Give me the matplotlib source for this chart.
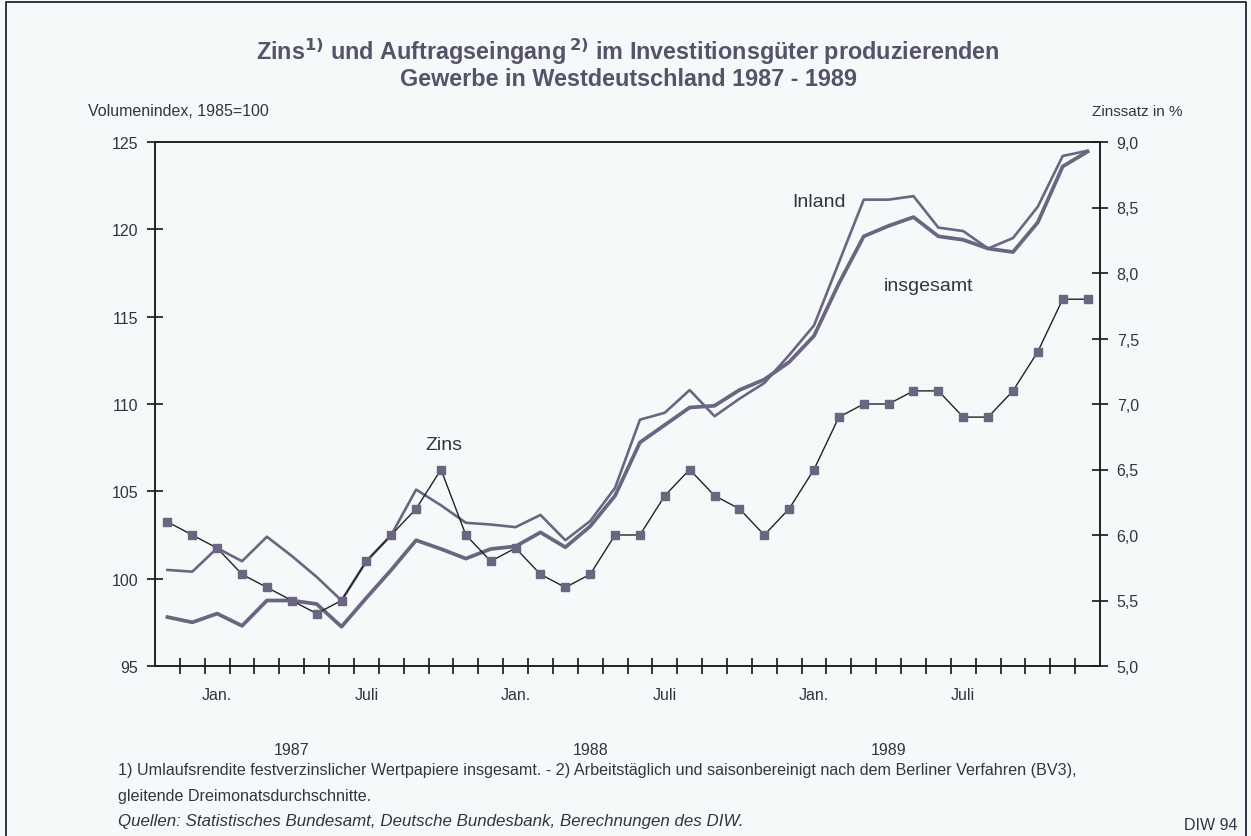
import matplotlib.pyplot as plt
import matplotlib.transforms as mtransforms
from matplotlib.lines import Line2D
from matplotlib.ticker import FuncFormatter

# months Nov 1986 .. Dec 1989 (one point per month)
months = list(range(38))

# Auftragseingang, Volumenindex 1985=100
inland = [100.5, 100.4, 101.75, 101.0, 102.4, 101.3, 100.1, 98.75, 101.0, 102.5,
          105.1, 104.2, 103.2, 103.1, 102.95, 103.65, 102.2, 103.3, 105.2, 109.1,
          109.5, 110.8, 109.3, 110.3, 111.2, 112.8, 114.5, 118.1, 121.7, 121.7,
          121.9, 120.1, 119.9, 118.9, 119.5, 121.3, 124.2, 124.5]
insgesamt = [97.8, 97.5, 98.0, 97.3, 98.75, 98.75, 98.55, 97.25, 98.9, 100.5,
             102.2, 101.7, 101.15, 101.7, 101.85, 102.65, 101.8, 103.0, 104.75, 107.8,
             108.8, 109.8, 109.9, 110.8, 111.4, 112.4, 113.9, 116.9, 119.6, 120.2,
             120.7, 119.6, 119.4, 118.9, 118.7, 120.4, 123.6, 124.45]
# Umlaufsrendite in %
zins = [6.1, 6.0, 5.9, 5.7, 5.6, 5.5, 5.4, 5.5, 5.8, 6.0, 6.2, 6.5, 6.0, 5.8,
        5.9, 5.7, 5.6, 5.7, 6.0, 6.0, 6.3, 6.5, 6.3, 6.2, 6.0, 6.2, 6.5, 6.9,
        7.0, 7.0, 7.1, 7.1, 6.9, 6.9, 7.1, 7.4, 7.8, 7.8]

month_pos = [2, 8, 14, 20, 26, 32]
month_labels = ["Jan.", "Juli", "Jan.", "Juli", "Jan.", "Juli"]
year_pos = [5, 17, 29]
year_labels = ["1987", "1988", "1989"]

plt.rcParams['font.family'] = ['Liberation Sans', 'DejaVu Sans']

bg = '#f6f9fa'
line_col = '#6a6680'
text_col = '#35333f'

fig = plt.figure(figsize=(12.51, 8.37), dpi=100, facecolor=bg)
ax = fig.add_axes([155 / 1251, 1 - 667 / 837, 945 / 1251, 524 / 837])
ax.set_facecolor(bg)

ax.plot(months, inland, color=line_col, lw=1.9, zorder=3)
ax.plot(months, insgesamt, color=line_col, lw=2.7, zorder=3)

ax.set_xlim(-0.5, 37.5)
ax.set_ylim(95, 125)
ax.set_yticks([95, 100, 105, 110, 115, 120, 125])

ax2 = ax.twinx()
ax2.plot(months, zins, color='#222222', lw=1.0, marker='s', markersize=6,
         markerfacecolor=line_col, markeredgecolor=line_col, zorder=4)
ax2.set_ylim(5, 9)
ax2.set_yticks([5.0, 5.5, 6.0, 6.5, 7.0, 7.5, 8.0, 8.5, 9.0])
ax2.yaxis.set_major_formatter(FuncFormatter(lambda v, p: f"{v:.1f}".replace('.', ',')))

for a in (ax, ax2):
    for s in a.spines.values():
        s.set_linewidth(1.2)
        s.set_color('#222222')

ax.tick_params(axis='y', direction='inout', length=12, width=1.1, labelsize=11.5,
               labelcolor=text_col, pad=6)
ax2.tick_params(axis='y', direction='inout', length=12, width=1.1, labelsize=11.5,
                labelcolor=text_col, pad=6)

# month boundaries as small ticks, month names as labels
ax.set_xticks([m + 0.5 for m in months[:-1]], minor=True)
ax.set_xticks(month_pos)
ax.set_xticklabels(month_labels)
ax.tick_params(axis='x', which='major', length=0, labelsize=11.5, labelcolor=text_col, pad=15)
ax.tick_params(axis='x', which='minor', direction='inout', length=11, width=1.1)

trans = mtransforms.blended_transform_factory(ax.transData, fig.transFigure)
for xp, yl in zip(year_pos, year_labels):
    ax.text(xp, 1 - 751 / 837, yl, transform=trans, ha='center', va='center',
            fontsize=11.5, color=text_col)

# series labels
ax.text(11.1, 107.7, "Zins", fontsize=14, color=text_col, ha='center', va='center')
ax.text(26.2, 121.6, "Inland", fontsize=14, color=text_col, ha='center', va='center')
ax.text(30.6, 116.8, "insgesamt", fontsize=14, color=text_col, ha='center', va='center')

# title
title_col = '#55526a'
fig.text(0.502, 1 - 52 / 837,
         r"Zins$^{\mathbf{1)}}$ und Auftragseingang$\,^{\mathbf{2)}}$ im Investitionsgüter produzierenden",
         ha='center', va='center', fontsize=16.8, fontweight='bold', color=title_col)
fig.text(0.502, 1 - 80 / 837, "Gewerbe in Westdeutschland 1987 - 1989",
         ha='center', va='center', fontsize=16.8, fontweight='bold', color=title_col)

fig.text(88 / 1251, 1 - 112 / 837, "Volumenindex, 1985=100", ha='left', va='center',
         fontsize=11.5, color=text_col)
fig.text(1183 / 1251, 1 - 112 / 837, "Zinssatz in %", ha='right', va='center',
         fontsize=11, color=text_col)

# footnotes
fig.text(118 / 1251, 1 - 771 / 837,
         "1) Umlaufsrendite festverzinslicher Wertpapiere insgesamt. - 2) Arbeitstäglich und "
         "saisonbereinigt nach dem Berliner Verfahren (BV3),",
         ha='left', va='center', fontsize=11.6, color=text_col)
fig.text(118 / 1251, 1 - 797 / 837, "gleitende Dreimonatsdurchschnitte.",
         ha='left', va='center', fontsize=11.6, color=text_col)
fig.text(118 / 1251, 1 - 822 / 837,
         "Quellen: Statistisches Bundesamt, Deutsche Bundesbank, Berechnungen des DIW.",
         ha='left', va='center', fontsize=12.2, style='italic', color=text_col)
fig.text(1238 / 1251, 1 - 826 / 837, "DIW 94", ha='right', va='center',
         fontsize=11.5, color=text_col)

# outer frame (open at the bottom)
fx = [6 / 1251, 6 / 1251, 1246 / 1251, 1246 / 1251]
fy = [0, 1 - 3 / 837, 1 - 3 / 837, 0]
fig.add_artist(Line2D(fx, fy, transform=fig.transFigure, color='#333344', lw=1.4))

fig.savefig('out.png', dpi=100, facecolor=bg)
